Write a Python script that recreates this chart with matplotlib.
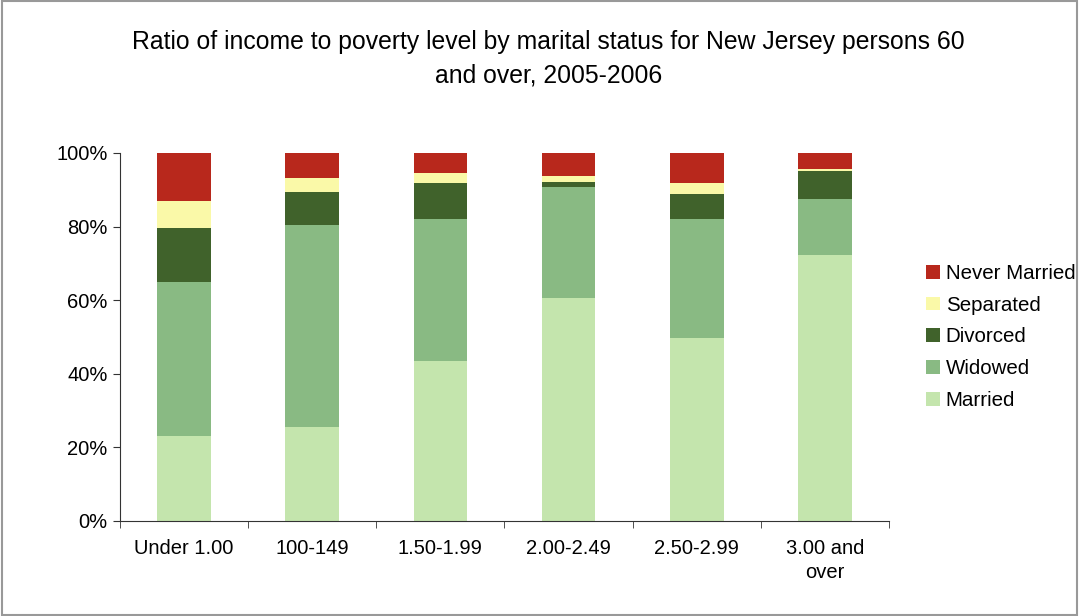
import numpy as np
import matplotlib.pyplot as plt
from matplotlib.patches import Rectangle

plt.rcParams['font.family'] = ['Liberation Sans', 'DejaVu Sans']

# categories and stacked shares (%)
categories = ["Under 1.00", "100-149", "1.50-1.99", "2.00-2.49", "2.50-2.99", "3.00 and\nover"]
married = [23.2, 25.6, 43.6, 60.6, 49.7, 72.3]
widowed = [41.8, 54.9, 38.5, 30.2, 32.4, 15.3]
divorced = [14.7, 9.0, 9.8, 1.4, 6.8, 7.6]
separated = [7.3, 3.8, 2.7, 1.6, 3.0, 0.5]
never_married = [13.0, 6.7, 5.4, 6.2, 8.1, 4.3]

series = [("Married", married, "#c4e5ad"),
          ("Widowed", widowed, "#89ba83"),
          ("Divorced", divorced, "#40622b"),
          ("Separated", separated, "#faf9a8"),
          ("Never Married", never_married, "#b8281c")]

fig = plt.figure(figsize=(10.79, 6.16), dpi=100)
ax = fig.add_axes([120 / 1079, 1 - 521 / 616, (889 - 120) / 1079, (521 - 153) / 616])

x = np.arange(len(categories))
bottom = np.zeros(len(categories))
handles = []
for name, vals, color in series:
    vals = np.array(vals)
    b = ax.bar(x, vals, 0.42, bottom=bottom, color=color, label=name, linewidth=0)
    handles.append(b)
    bottom += vals

ax.set_xlim(-0.5, len(categories) - 0.5)
ax.set_ylim(0, 100)
ax.set_yticks(np.arange(0, 101, 20))
ax.set_yticklabels([f"{v}%" for v in range(0, 101, 20)], fontsize=14.5)
ax.set_xticks(x)
ax.set_xticklabels(categories, fontsize=14.5, linespacing=1.35)
ax.tick_params(axis='x', length=0, pad=13)
ax.set_xticks(np.arange(-0.5, len(categories)), minor=True)
ax.tick_params(axis='x', which='minor', length=5, color='#333333')
ax.tick_params(axis='y', length=5, color='#333333', pad=4)
for s in ['top', 'right']:
    ax.spines[s].set_visible(False)
for s in ['left', 'bottom']:
    ax.spines[s].set_color('#333333')

fig.text(0.508, 1 - 30 / 616, "Ratio of income to poverty level by marital status for New Jersey persons 60\nand over, 2005-2006",
         ha='center', va='top', fontsize=17.8, linespacing=1.5)

ax.legend(handles[::-1], [s[0] for s in series][::-1], loc='center left',
          bbox_to_anchor=(916 / 1079, 1 - 337 / 616), bbox_transform=fig.transFigure,
          frameon=False, fontsize=14.8, handlelength=0.65, handleheight=0.65,
          handletextpad=0.3, labelspacing=0.62, borderpad=0)

fig.patches.append(Rectangle((0.002, 0.002), 0.996, 0.996, transform=fig.transFigure,
                             fill=False, edgecolor='#999999', linewidth=1.5))

fig.savefig("out.png", dpi=100)
